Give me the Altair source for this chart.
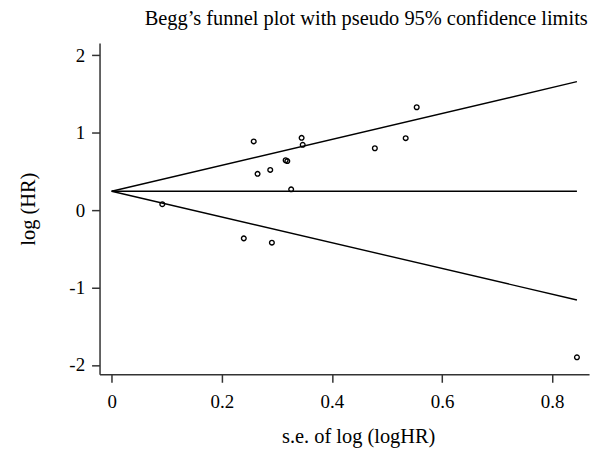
import altair as alt
import pandas as pd

# Study points (standard error of logHR, logHR)
se = [0.092, 0.240, 0.291, 0.326, 0.258, 0.345, 0.347, 0.478, 0.534, 0.316, 0.319,
      0.265, 0.288, 0.554, 0.845]
loghr = [0.077, -0.364, -0.42, 0.27, 0.888, 0.935, 0.845, 0.80, 0.93, 0.645, 0.635,
         0.47, 0.52, 1.33, -1.90]

# Funnel (pseudo 95% limits) endpoints
funnel_se = [0.0, 0.845]
funnel_upper = [0.245, 1.66]
funnel_center = [0.245, 0.245]
funnel_lower = [0.245, -1.16]

pts = pd.DataFrame({"se": se, "loghr": loghr})
rows = []
for name, vals in [("upper", funnel_upper), ("center", funnel_center), ("lower", funnel_lower)]:
    for s, v in zip(funnel_se, vals):
        rows.append({"series": name, "se": s, "loghr": v})
lines_df = pd.DataFrame(rows)

FONT = "Liberation Serif"

xscale = alt.Scale(domain=[-0.022, 0.867], nice=False, zero=False)
yscale = alt.Scale(domain=[-2.12, 2.16], nice=False, zero=False)

xaxis = alt.Axis(values=[0, 0.2, 0.4, 0.6, 0.8],
                 labelExpr="datum.value == 0 ? '0' : format(datum.value, '.1f')",
                 title="s.e. of log (logHR)", titlePadding=16, titleX=260,
                 labelPadding=10)
yaxis = alt.Axis(values=[-2, -1, 0, 1, 2], labelExpr="datum.value + ''",
                 title="log (HR)", titlePadding=31, labelPadding=7)

lines = alt.Chart(lines_df).mark_line(color="black", strokeWidth=1.4).encode(
    x=alt.X("se:Q", scale=xscale, axis=xaxis),
    y=alt.Y("loghr:Q", scale=yscale, axis=yaxis),
    detail="series:N",
)

points = alt.Chart(pts).mark_point(shape="circle", filled=False, color="black",
                                   size=22, strokeWidth=1.4, opacity=1).encode(
    x=alt.X("se:Q", scale=xscale),
    y=alt.Y("loghr:Q", scale=yscale),
)

chart = alt.layer(lines, points).properties(
    width=492, height=333,
    autosize=alt.AutoSizeParams(type="none"),
    padding={"left": 92, "top": 34, "right": 10, "bottom": 90},
    title=alt.TitleParams("Begg’s funnel plot with pseudo 95% confidence limits",
                          font=FONT, fontSize=20.5, fontWeight="normal",
                          color="black", anchor="middle", offset=14, dx=22),
).configure_view(stroke=None).configure_axis(
    grid=False, domainColor="#333333", domainWidth=1.5, tickColor="#333333",
    tickWidth=1.5, tickSize=8, labelFont=FONT, labelFontSize=19, labelColor="black",
    titleFont=FONT, titleFontSize=20.5, titleFontWeight="normal", titleColor="black",
).configure_axisY(labelAngle=0)

chart.save("out.html", embed_options={"renderer": "svg", "actions": False})
